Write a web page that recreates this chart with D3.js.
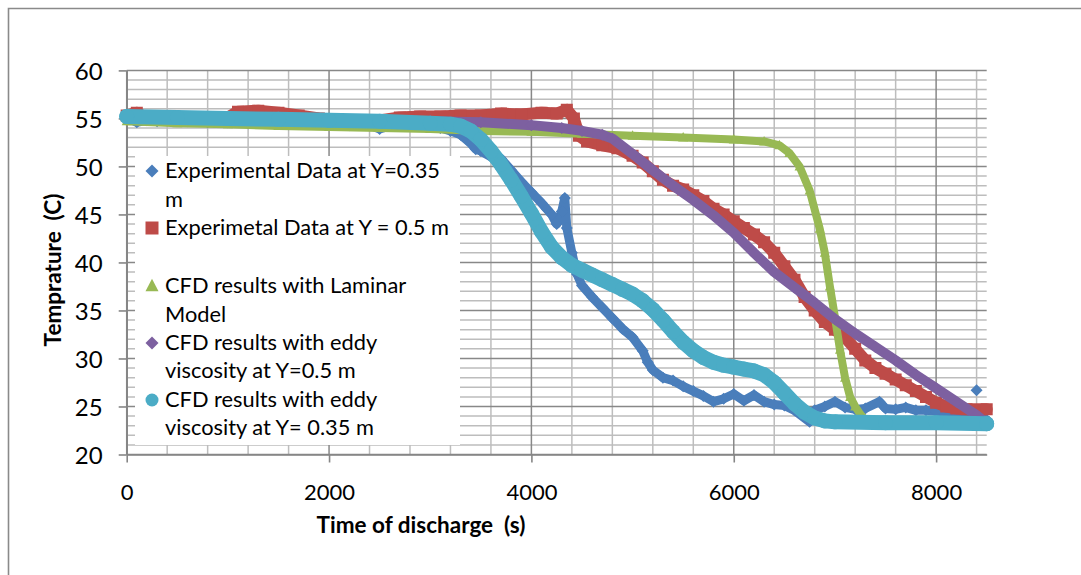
<!DOCTYPE html>
<html>
<head>
<meta charset="utf-8">
<script src="https://cdn.jsdelivr.net/npm/d3@7"></script>
<style>
  html, body { margin: 0; padding: 0; background: #fff; }
  svg { display: block; font-family: Lato, "Open Sans", sans-serif; }
</style>
</head>
<body>
<svg id="chart" width="1081" height="575"></svg>
<script>
// Tank discharge temperatures: measured probes vs. CFD runs, [time (s), temperature (C)]
const expY035 = [
  [0,55.0],[100,54.6],[200,54.8],[300,54.7],[400,54.9],[600,54.7],[800,54.6],[1000,54.6],
  [1200,54.5],[1400,54.6],[1600,54.4],[1800,54.5],[2000,54.4],[2200,54.3],[2400,54.3],[2500,53.9],
  [2600,54.2],[2800,54.2],[3000,54.1],[3100,54.0],[3200,53.7],[3300,53.3],[3400,52.4],[3450,51.8],
  [3500,51.6],[3600,51.0],[3700,50.8],[3800,49.6],[3900,48.4],[4000,47.3],[4100,46.2],[4150,45.6],
  [4200,45.0],[4250,44.0],[4300,45.3],[4330,46.7],[4350,43.6],[4400,41.0],[4450,38.8],
  [4500,37.6],[4600,36.4],[4700,35.3],[4800,34.2],[4900,33.1],[5000,32.2],[5100,30.8],[5150,29.6],
  [5200,28.8],[5300,28.0],[5400,27.7],[5500,27.1],[5600,26.6],[5700,26.1],[5800,25.5],[5900,25.8],
  [6000,26.3],[6100,25.6],[6200,26.2],[6300,25.5],[6400,25.2],[6500,25.1],[6600,24.6],[6750,23.4],
  [6800,24.6],[6900,25.0],[7000,25.5],[7100,24.9],[7200,24.7],[7300,24.8],[7440,25.5],[7500,24.8],
  [7600,24.7],[7700,24.9],[7800,24.6],[7900,24.6],[8000,24.5],[8100,24.4],[8200,24.3],[8300,24.2],
  [8500,23.6]
];
const expY035Stray = [[8400,26.7]];

const expY05 = [
  [0,55.3],[100,55.6],[200,55.0],[400,54.9],[600,55.1],[800,54.8],[1000,55.1],[1100,55.7],
  [1300,55.8],[1500,55.6],[1700,55.3],[1900,55.0],[2100,54.8],[2300,54.6],[2500,54.8],[2700,55.1],
  [2900,55.2],[3100,55.2],[3300,55.3],[3500,55.3],[3700,55.5],[3900,55.4],[4100,55.6],[4250,55.5],
  [4350,55.9],[4420,55.0],[4470,53.2],[4550,52.6],[4700,52.2],[4850,51.9],[5000,51.1],[5100,50.4],
  [5200,49.5],[5300,48.6],[5400,48.0],[5500,47.6],[5600,47.0],[5700,46.4],[5800,45.6],[5900,45.0],
  [6000,44.3],[6100,43.6],[6200,42.9],[6300,42.1],[6400,41.0],[6500,39.6],[6600,38.2],[6700,36.4],
  [6800,35.0],[6900,33.8],[7000,33.0],[7100,32.2],[7200,31.0],[7300,29.8],[7400,29.0],[7500,28.4],
  [7600,27.8],[7700,27.2],[7800,26.6],[7900,26.0],[8000,25.4],[8100,25.0],[8200,24.8],[8300,24.7],
  [8500,24.7]
];

const cfdLaminar = [
  [0,54.7],[500,54.5],[1000,54.4],[1500,54.2],[2000,54.1],[2500,54.0],[3000,53.9],[3500,53.7],
  [4000,53.6],[4500,53.4],[5000,53.2],[5500,53.0],[6000,52.8],[6300,52.6],[6450,52.2],[6550,51.4],
  [6650,50.0],[6750,47.5],[6850,43.5],[6900,41.0],[6950,37.5],[7000,34.3],[7050,30.9],[7100,28.0],
  [7150,26.0],[7200,25.0],[7250,24.2],[7300,23.6],[7350,23.2],[7440,23.0]
];

const cfdEddyY05 = [
  [0,55.2],[1000,55.1],[2000,54.9],[3000,54.7],[3500,54.6],[4000,54.3],[4300,54.0],[4500,53.7],
  [4700,53.3],[4800,52.9],[5000,51.3],[5200,49.6],[5400,48.0],[5600,46.5],[5800,44.9],[6000,43.1],
  [6200,41.0],[6400,39.0],[6600,37.4],[6800,35.8],[7000,34.1],[7200,32.6],[7400,31.2],[7600,29.8],
  [7800,28.3],[8000,26.9],[8200,25.5],[8400,24.1],[8500,23.2]
];

const cfdEddyY035 = [
  [0,55.2],[500,55.1],[1000,55.0],[1500,54.9],[2000,54.8],[2500,54.7],[3000,54.5],[3200,54.4],
  [3300,54.2],[3400,53.7],[3500,52.8],[3600,51.6],[3700,50.2],[3800,48.6],[3900,46.9],[4000,45.1],
  [4100,43.2],[4200,41.6],[4300,40.5],[4400,39.7],[4500,39.2],[4600,38.7],[4700,38.2],[4800,37.7],
  [4900,37.2],[5000,36.7],[5100,36.0],[5200,35.1],[5300,34.0],[5400,32.8],[5500,31.7],[5600,30.8],
  [5700,30.1],[5800,29.6],[5900,29.3],[6000,29.1],[6100,28.9],[6200,28.7],[6300,28.3],[6400,27.5],
  [6500,26.4],[6600,25.3],[6700,24.4],[6800,23.8],[6900,23.5],[7000,23.4],[7500,23.3],[8000,23.3],
  [8500,23.2]
];

const xTicks = [0, 2000, 4000, 6000, 8000];
const yTicks = [20, 25, 30, 35, 40, 45, 50, 55, 60];

const seriesNames = [
  ["Experimental Data at Y=0.35", "m"],
  ["Experimetal Data at Y = 0.5 m"],
  ["CFD results with Laminar", "Model"],
  ["CFD results with eddy", "viscosity at Y=0.5 m"],
  ["CFD results with eddy", "viscosity at Y= 0.35 m"]
];

// ---- drawing ----
const svg = d3.select("#chart");
const x = d3.scaleLinear().domain([0, 8500]).range([126.7, 986.7]);
const y = d3.scaleLinear().domain([20, 60]).range([454.5, 70.4]);

// outer chart frame (only left and top edges fall inside the canvas)
svg.append("path")
  .attr("d", "M8.5,575 V8.5 H1081")
  .attr("fill", "none").attr("stroke", "#8a8a8a").attr("stroke-width", 1.6);

const grid = svg.append("g");
const minorX = d3.range(0, 8501, 400).filter(v => v % 2000 !== 0);
const minorY = d3.range(20, 61, 1).filter(v => v % 5 !== 0);
grid.selectAll(".mx").data(minorX).join("line")
  .attr("x1", d => x(d)).attr("x2", d => x(d)).attr("y1", y(60)).attr("y2", y(20))
  .attr("stroke", "#bdbdbd").attr("stroke-width", 1.5);
grid.selectAll(".my").data(minorY).join("line")
  .attr("x1", x(0)).attr("x2", x(8500)).attr("y1", d => y(d)).attr("y2", d => y(d))
  .attr("stroke", "#bdbdbd").attr("stroke-width", 1.5);
grid.selectAll(".Mx").data(xTicks).join("line")
  .attr("x1", d => x(d)).attr("x2", d => x(d)).attr("y1", y(60)).attr("y2", y(20))
  .attr("stroke", "#888").attr("stroke-width", 1.5);
grid.selectAll(".My").data(yTicks).join("line")
  .attr("x1", x(0)).attr("x2", x(8500)).attr("y1", d => y(d)).attr("y2", d => y(d))
  .attr("stroke", "#888").attr("stroke-width", 1.5);

// axes
const yAxis = svg.append("g").attr("transform", `translate(${x(0)},0)`)
  .call(d3.axisLeft(y).tickValues(yTicks).tickSize(8).tickSizeOuter(0).tickPadding(16));
const xAxis = svg.append("g").attr("transform", `translate(0,${y(20)})`)
  .call(d3.axisBottom(x).tickValues(xTicks).tickFormat(d3.format("d")).tickSize(8).tickSizeOuter(0));
[yAxis, xAxis].forEach(a => {
  a.select(".domain").attr("stroke", "#868686").attr("stroke-width", 1.6);
  a.selectAll(".tick line").attr("stroke", "#868686").attr("stroke-width", 1.6);
  a.selectAll("text").attr("fill", "#000").attr("font-family", "Lato, sans-serif");
});
yAxis.selectAll("text").attr("font-size", 24).attr("dy", "0.36em");
xAxis.selectAll("text").attr("font-size", 22).attr("y", 45).attr("dy", 0);

// axis titles
svg.append("text")
  .attr("transform", "translate(61,270) rotate(-90)")
  .attr("text-anchor", "middle").attr("font-size", 22.5).attr("font-weight", "bold")
  .attr("xml:space", "preserve")
  .text("Temprature  (C)");
svg.append("text")
  .attr("x", 421).attr("y", 533)
  .attr("text-anchor", "middle").attr("font-size", 22.5).attr("font-weight", "bold")
  .attr("xml:space", "preserve")
  .text("Time of discharge  (s)");

// marker shapes
const shapes = {
  diamond: s => `M0,${-s/2}L${s/2},0L0,${s/2}L${-s/2},0Z`,
  square: s => `M${-s/2},${-s/2}h${s}v${s}h${-s}Z`,
  triangle: s => `M0,${-s*0.55}L${s/2},${s*0.4}L${-s/2},${s*0.4}Z`,
  circle: s => d3.symbol(d3.symbolCircle, Math.PI * s * s / 4)()
};

const series = [
  { data: expY035, color: "#4a7ebb", shape: "diamond", size: 12, band: 9 },
  { data: expY05, color: "#be4b48", shape: "square", size: 12, band: 12 },
  { data: cfdLaminar, color: "#98b954", shape: "triangle", size: 10, band: 8 },
  { data: cfdEddyY05, color: "#7d60a0", shape: "diamond", size: 12, band: 10 },
  { data: cfdEddyY035, color: "#4bacc6", shape: "circle", size: 15, band: 15 }
];

svg.append("clipPath").attr("id", "plot")
  .append("rect").attr("x", x(0) - 8).attr("y", y(60) - 8)
  .attr("width", x(8500) - x(0) + 16).attr("height", y(20) - y(60) + 16);

const marks = svg.append("g").attr("clip-path", "url(#plot)");
const line = d3.line().x(d => x(d[0])).y(d => y(d[1]));

series.forEach(s => {
  const g = marks.append("g");
  g.append("path").attr("d", line(s.data))
    .attr("fill", "none").attr("stroke", s.color)
    .attr("stroke-width", s.band).attr("stroke-linejoin", "round").attr("stroke-linecap", "round");
  g.selectAll("path.m").data(s.data).join("path").attr("class", "m")
    .attr("transform", d => `translate(${x(d[0])},${y(d[1])})`)
    .attr("d", shapes[s.shape](s.size)).attr("fill", s.color);
  if (s.data === expY035) {
    g.selectAll("path.st").data(expY035Stray).join("path").attr("class", "st")
      .attr("transform", d => `translate(${x(d[0])},${y(d[1])})`)
      .attr("d", shapes.diamond(s.size)).attr("fill", s.color);
  }
});

// legend
const legend = svg.append("g");
legend.append("rect").attr("x", 135).attr("y", 156).attr("width", 325).attr("height", 289).attr("fill", "#fff");
const baselines = [[178, 207], [235], [293, 322], [350, 378], [407, 435]];
series.forEach((s, i) => {
  const b = baselines[i][0];
  legend.append("path").attr("transform", `translate(152,${b - 7})`)
    .attr("d", shapes[s.shape](13)).attr("fill", s.color);
  seriesNames[i].forEach((t, j) => {
    legend.append("text").attr("x", 165).attr("y", baselines[i][j])
      .attr("font-size", 21.8).attr("fill", "#000").text(t);
  });
});
</script>
</body>
</html>
